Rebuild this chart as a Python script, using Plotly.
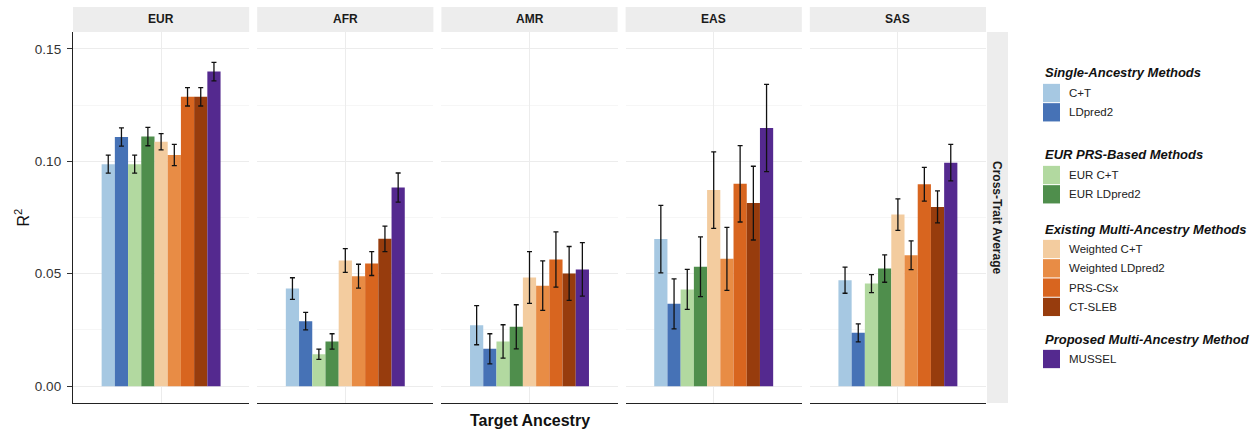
import plotly.graph_objects as go

# ---------------- data ----------------
ancestries = ["EUR", "AFR", "AMR", "EAS", "SAS"]
methods = ["C+T", "LDpred2", "EUR C+T", "EUR LDpred2", "Weighted C+T",
           "Weighted LDpred2", "PRS-CSx", "CT-SLEB", "MUSSEL"]
colors = ["#a6c8e2", "#4672b6", "#b2d9a0", "#4f8e4c", "#f3cc9f",
          "#e88c45", "#d8651f", "#973c0d", "#54298f"]

r2_eur = [0.0987, 0.1108, 0.0987, 0.1110, 0.1087, 0.1028, 0.1287, 0.1287, 0.1399]
err_eur = [0.0040, 0.0041, 0.0040, 0.0041, 0.0036, 0.0047, 0.0041, 0.0041, 0.0041]
r2_afr = [0.0434, 0.0289, 0.0142, 0.0199, 0.0559, 0.0489, 0.0545, 0.0655, 0.0883]
err_afr = [0.0048, 0.0039, 0.0023, 0.0034, 0.0053, 0.0053, 0.0053, 0.0057, 0.0065]
r2_amr = [0.0271, 0.0166, 0.0199, 0.0264, 0.0483, 0.0447, 0.0563, 0.0501, 0.0519]
err_amr = [0.0087, 0.0067, 0.0074, 0.0098, 0.0115, 0.0110, 0.0123, 0.0120, 0.0119]
r2_eas = [0.0654, 0.0366, 0.0430, 0.0531, 0.0872, 0.0566, 0.0900, 0.0814, 0.1148]
err_eas = [0.0150, 0.0111, 0.0089, 0.0133, 0.0170, 0.0140, 0.0170, 0.0164, 0.0194]
r2_sas = [0.0471, 0.0237, 0.0456, 0.0523, 0.0763, 0.0582, 0.0898, 0.0797, 0.0994]
err_sas = [0.0058, 0.0040, 0.0040, 0.0061, 0.0070, 0.0064, 0.0075, 0.0071, 0.0081]

r2_all = [r2_eur, r2_afr, r2_amr, r2_eas, r2_sas]
err_all = [err_eur, err_afr, err_amr, err_eas, err_sas]

y_ticks = [0.0, 0.05, 0.10, 0.15]
y_tick_labels = ["0.00", "0.05", "0.10", "0.15"]

legend_groups = ["Single-Ancestry Methods", "EUR PRS-Based Methods",
                 "Existing Multi-Ancestry Methods", "Proposed Multi-Ancestry Method"]
legend_members = [[0, 1], [2, 3], [4, 5, 6, 7], [8]]

facet_row_label = "Cross-Trait Average"

# ---------------- layout helpers ----------------
W, H = 1258, 433
FONT = "Liberation Sans, Arial, Helvetica, sans-serif"


def px(x):
    return x / W


def py(y):
    return 1 - y / H


plot_left, plot_right, panel_gap = 73, 986, 8
plot_top, plot_bottom = 32, 403
strip_top = 7
panel_w = (plot_right - plot_left - panel_gap * (len(ancestries) - 1)) / len(ancestries)

fig = go.Figure()
layout = {}
shapes = []
annotations = []

for i, anc in enumerate(ancestries):
    ax = "" if i == 0 else str(i + 1)
    x0 = plot_left + i * (panel_w + panel_gap)
    x1 = x0 + panel_w
    for j, m in enumerate(methods):
        fig.add_trace(go.Bar(
            x=[anc], y=[r2_all[i][j]], name=m,
            marker=dict(color=colors[j], line=dict(width=0)),
            error_y=dict(type="data", array=[err_all[i][j]], color="#111111",
                         thickness=1.3, width=2.5),
            xaxis="x" + ax, yaxis="y" + ax, showlegend=False,
            hovertemplate=f"{anc} – {m}: %{{y:.3f}}<extra></extra>",
        ))
    layout["xaxis" + ax] = dict(
        domain=[px(x0), px(x1)], anchor="y" + ax, type="category",
        range=[-0.6, 0.6], showticklabels=False, ticks="",
        showgrid=True, gridcolor="#ececec", gridwidth=1,
        showline=True, linecolor="#222222", linewidth=1.3, zeroline=False,
    )
    yax = dict(
        domain=[py(plot_bottom), py(plot_top)], anchor="x" + ax,
        range=[-0.0075, 0.1575], tickvals=y_ticks,
        showgrid=True, gridcolor="#ececec", gridwidth=1, zeroline=False,
        minor=dict(tickvals=[0.025, 0.075, 0.125], showgrid=True,
                   gridcolor="#f6f6f6", gridwidth=1, ticks=""),
    )
    if i == 0:
        yax.update(ticktext=y_tick_labels, ticks="outside", ticklen=5,
                   tickcolor="#333333", tickwidth=1.1,
                   showline=True, linecolor="#222222", linewidth=1.3,
                   tickfont=dict(family=FONT, size=13.5, color="#333333"),
                   ticklabelstandoff=3)
    else:
        yax.update(matches="y", showticklabels=False, ticks="", showline=False)
    layout["yaxis" + ax] = yax

    # facet strip
    shapes.append(dict(type="rect", xref="paper", yref="paper",
                       x0=px(x0), x1=px(x1), y0=py(plot_top), y1=py(strip_top),
                       fillcolor="#ededed", line=dict(width=0), layer="below"))
    annotations.append(dict(text=f"<b>{anc}</b>", xref="paper", yref="paper",
                            x=px((x0 + x1) / 2), y=py((plot_top + strip_top) / 2),
                            showarrow=False, xanchor="center", yanchor="middle",
                            font=dict(family=FONT, size=12, color="#1a1a1a")))

# right facet strip
shapes.append(dict(type="rect", xref="paper", yref="paper",
                   x0=px(987), x1=px(1008), y0=py(plot_bottom), y1=py(plot_top),
                   fillcolor="#ededed", line=dict(width=0), layer="below"))
annotations.append(dict(text=f"<b>{facet_row_label}</b>", xref="paper", yref="paper",
                        x=px(997.5), y=py((plot_top + plot_bottom) / 2),
                        textangle=90, showarrow=False, xanchor="center", yanchor="middle",
                        font=dict(family=FONT, size=12, color="#1a1a1a")))

# axis titles
annotations.append(dict(text="R<sup>2</sup>", xref="paper", yref="paper",
                        x=px(22), y=py((plot_top + plot_bottom) / 2), textangle=-90,
                        showarrow=False, xanchor="center", yanchor="middle",
                        font=dict(family=FONT, size=16, color="#111111")))
annotations.append(dict(text="<b>Target Ancestry</b>", xref="paper", yref="paper",
                        x=px((plot_left + plot_right) / 2), y=py(420),
                        showarrow=False, xanchor="center", yanchor="middle",
                        font=dict(family=FONT, size=16, color="#111111")))

# legend (drawn manually)
group_title_y = [73, 155, 229, 339]
sw_x0, sw_x1, lab_x = 1043, 1060, 1067
item_step = 19.3
for g, title in enumerate(legend_groups):
    ty = group_title_y[g]
    annotations.append(dict(text=f"<b><i>{title}</i></b>", xref="paper", yref="paper",
                            x=px(sw_x0), y=py(ty), showarrow=False,
                            xanchor="left", yanchor="middle",
                            font=dict(family=FONT, size=13, color="#111111")))
    for k, mi in enumerate(legend_members[g]):
        cy = ty + 20 + k * item_step
        shapes.append(dict(type="rect", xref="paper", yref="paper",
                           x0=px(sw_x0), x1=px(sw_x1),
                           y0=py(cy + item_step / 2 - 0.5), y1=py(cy - item_step / 2 + 0.5),
                           fillcolor=colors[mi], line=dict(width=0)))
        annotations.append(dict(text=methods[mi], xref="paper", yref="paper",
                                x=px(lab_x), y=py(cy), showarrow=False,
                                xanchor="left", yanchor="middle",
                                font=dict(family=FONT, size=11.5, color="#222222")))

fig.update_layout(
    width=W, height=H,
    margin=dict(l=0, r=0, t=0, b=0, pad=0),
    paper_bgcolor="white", plot_bgcolor="white",
    barmode="group", bargap=0.19, bargroupgap=0,
    showlegend=False,
    shapes=shapes, annotations=annotations,
    font=dict(family=FONT),
    **layout,
)

fig.write_html("out.html")
